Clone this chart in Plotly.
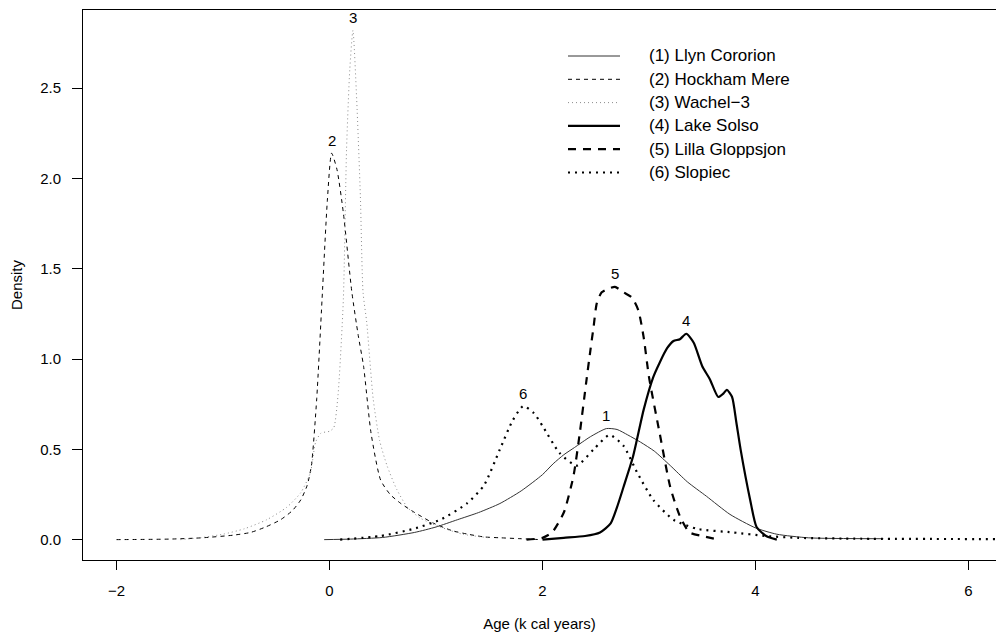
import plotly.graph_objects as go

# ---------------- data ----------------
series_names = ["(1) Llyn Cororion", "(2) Hockham Mere", "(3) Wachel\u22123",
                "(4) Lake Solso", "(5) Lilla Gloppsjon", "(6) Slopiec"]
peak_labels = ["1", "2", "3", "4", "5", "6"]

llyn_x = [-0.05, 0.2, 0.5, 0.8, 1.0, 1.2, 1.4, 1.6, 1.8, 2.0, 2.1, 2.2, 2.3, 2.45,
          2.6, 2.7, 2.8, 2.92, 3.05, 3.2, 3.36, 3.54, 3.76, 4.0, 4.2, 4.5, 5.2]
llyn_y = [0.0, 0.003, 0.012, 0.04, 0.07, 0.11, 0.15, 0.2, 0.27, 0.36, 0.42, 0.47, 0.51, 0.57,
          0.615, 0.61, 0.58, 0.54, 0.49, 0.41, 0.32, 0.24, 0.14, 0.065, 0.03, 0.01, 0.005]

hockham_x = [-2.0, -1.5, -1.2, -0.9, -0.74, -0.6, -0.46, -0.35, -0.27, -0.21, -0.17, -0.12,
             -0.07, -0.02, 0.02, 0.07, 0.13, 0.21, 0.27, 0.32, 0.39, 0.48, 0.57, 0.67, 0.8,
             0.98, 1.15, 1.3, 1.45, 1.61, 1.8, 1.98]
hockham_y = [0.0, 0.003, 0.01, 0.025, 0.04, 0.07, 0.11, 0.16, 0.22, 0.3, 0.41, 0.78,
             1.33, 1.88, 2.14, 2.05, 1.81, 1.37, 1.13, 0.96, 0.59, 0.33, 0.25, 0.2, 0.15,
             0.09, 0.05, 0.03, 0.015, 0.01, 0.005, 0.0]

wachel_x = [-1.4, -1.22, -1.0, -0.8, -0.59, -0.4, -0.27, -0.18, -0.13, -0.08, 0.0, 0.04,
            0.08, 0.13, 0.16, 0.19, 0.22, 0.255, 0.29, 0.315, 0.35, 0.41, 0.47, 0.54, 0.63,
            0.73, 0.85, 1.04, 1.25, 1.5]
wachel_y = [0.0, 0.01, 0.03, 0.06, 0.11, 0.18, 0.26, 0.37, 0.54, 0.59, 0.6, 0.62,
            0.8, 1.33, 2.16, 2.6, 2.82, 2.44, 1.9, 1.37, 1.2, 0.78, 0.55, 0.41, 0.28,
            0.18, 0.12, 0.07, 0.03, 0.01]

solso_x = [2.0, 2.2, 2.4, 2.54, 2.64, 2.7, 2.76, 2.85, 2.95, 3.04, 3.1, 3.17, 3.23, 3.29,
           3.35, 3.42, 3.5, 3.57, 3.65, 3.7, 3.73, 3.78, 3.82, 3.86, 3.95, 4.01, 4.1, 4.2]
solso_y = [0.0, 0.01, 0.02, 0.04, 0.09, 0.18, 0.29, 0.46, 0.72, 0.9, 0.98, 1.06, 1.1, 1.11,
           1.14, 1.09, 0.96, 0.89, 0.79, 0.81, 0.83, 0.79, 0.65, 0.5, 0.22, 0.07, 0.02, 0.0]

lilla_x = [1.85, 2.0, 2.09, 2.2, 2.29, 2.35, 2.41, 2.45, 2.48, 2.51, 2.556, 2.62, 2.68,
           2.76, 2.84, 2.9, 2.95, 3.0, 3.1, 3.2, 3.29, 3.38, 3.5, 3.65]
lilla_y = [0.0, 0.01, 0.04, 0.15, 0.35, 0.59, 0.87, 1.05, 1.18, 1.31, 1.37, 1.39, 1.40,
           1.37, 1.34, 1.27, 1.12, 0.9, 0.59, 0.29, 0.13, 0.04, 0.02, 0.0]

slopiec_x = [0.1, 0.48, 0.79, 1.04, 1.29, 1.45, 1.6, 1.72, 1.82, 1.92, 2.0, 2.16, 2.32,
             2.48, 2.63, 2.76, 2.89, 3.04, 3.23, 3.45, 3.79, 4.1, 4.4, 5.0, 6.3]
slopiec_y = [0.0, 0.02, 0.06, 0.11, 0.2, 0.3, 0.5, 0.66, 0.74, 0.7, 0.63, 0.48, 0.41,
             0.5, 0.58, 0.52, 0.37, 0.22, 0.11, 0.06, 0.04, 0.02, 0.01, 0.005, 0.003]

x_ticks = [-2, 0, 2, 4, 6]
y_ticks = [0.0, 0.5, 1.0, 1.5, 2.0, 2.5]
y_tick_text = ["0.0", "0.5", "1.0", "1.5", "2.0", "2.5"]

# ---------------- styles ----------------
FONT = "Liberation Sans, Arial, Helvetica, sans-serif"
xs = [llyn_x, hockham_x, wachel_x, solso_x, lilla_x, slopiec_x]
ys = [llyn_y, hockham_y, wachel_y, solso_y, lilla_y, slopiec_y]
styles = [
    dict(color="#333333", width=1, dash="solid"),
    dict(color="#000000", width=1, dash="4px,4px"),
    dict(color="#8c8c8c", width=1, dash="1px,3px"),
    dict(color="#000000", width=2.2, dash="solid"),
    dict(color="#000000", width=2.2, dash="8px,7px"),
    dict(color="#000000", width=2.2, dash="2px,5px"),
]

W, H = 996, 639
ML, MR, MT, MB = 83, 0, 10, 79
PW, PH = W - ML - MR, H - MT - MB

fig = go.Figure()
for x, y, st, nm in zip(xs, ys, styles, series_names):
    fig.add_trace(go.Scatter(x=x, y=y, mode="lines", name=nm, showlegend=False,
                             line=dict(color=st["color"], width=st["width"], dash=st["dash"],
                                       shape="spline", smoothing=0.6),
                             hoverinfo="skip"))

# peak number labels at each series' maximum
for x, y, lab in zip(xs, ys, peak_labels):
    i = max(range(len(y)), key=lambda k: y[k])
    fig.add_annotation(x=x[i], y=y[i], text=lab, showarrow=False, yshift=13,
                       font=dict(family=FONT, size=15, color="#000"))

# hand-built legend box (R style)
leg_x0, leg_x1, leg_tx = 568, 620, 647
row0, row_step = 56, 23.3
for k, (st, nm) in enumerate(zip(styles, series_names)):
    ypx = row0 + k * row_step
    yp = (H - MB - ypx) / PH
    fig.add_shape(type="line", xref="paper", yref="paper",
                  x0=(leg_x0 - ML) / PW, x1=(leg_x1 - ML) / PW, y0=yp, y1=yp,
                  line=dict(color=st["color"], width=st["width"], dash=st["dash"]))
    fig.add_annotation(xref="paper", yref="paper", x=(leg_tx - ML) / PW, y=yp,
                       text=nm, showarrow=False, xanchor="left", yanchor="middle",
                       font=dict(family=FONT, size=17, color="#000"))

x0_range = -2 - (116.5 - ML) / 106.5
x1_range = -2 + (W - 116.5) / 106.5

fig.update_layout(
    width=W, height=H,
    margin=dict(l=ML, r=MR, t=MT, b=MB, pad=0),
    paper_bgcolor="white", plot_bgcolor="white",
    font=dict(family=FONT, size=15, color="#000"),
    xaxis=dict(range=[x0_range, x1_range], tickvals=x_ticks,
               ticktext=["\u22122", "0", "2", "4", "6"],
               showgrid=False, zeroline=False, showline=True, mirror=True,
               linecolor="#000", linewidth=1, ticks="outside", ticklen=9,
               tickcolor="#000", tickwidth=1, ticklabelstandoff=8,
               title=dict(text="Age (k cal years)", standoff=20,
                          font=dict(family=FONT, size=15))),
    yaxis=dict(range=[-0.1128, 2.933], tickvals=y_ticks, ticktext=y_tick_text,
               showgrid=False, zeroline=False, showline=True, mirror=False,
               linecolor="#000", linewidth=1, ticks="outside", ticklen=10,
               tickcolor="#000", tickwidth=1, ticklabelstandoff=8,
               title=dict(text="Density", standoff=13,
                          font=dict(family=FONT, size=15))),
    showlegend=False,
)

fig.write_html("out.html")
